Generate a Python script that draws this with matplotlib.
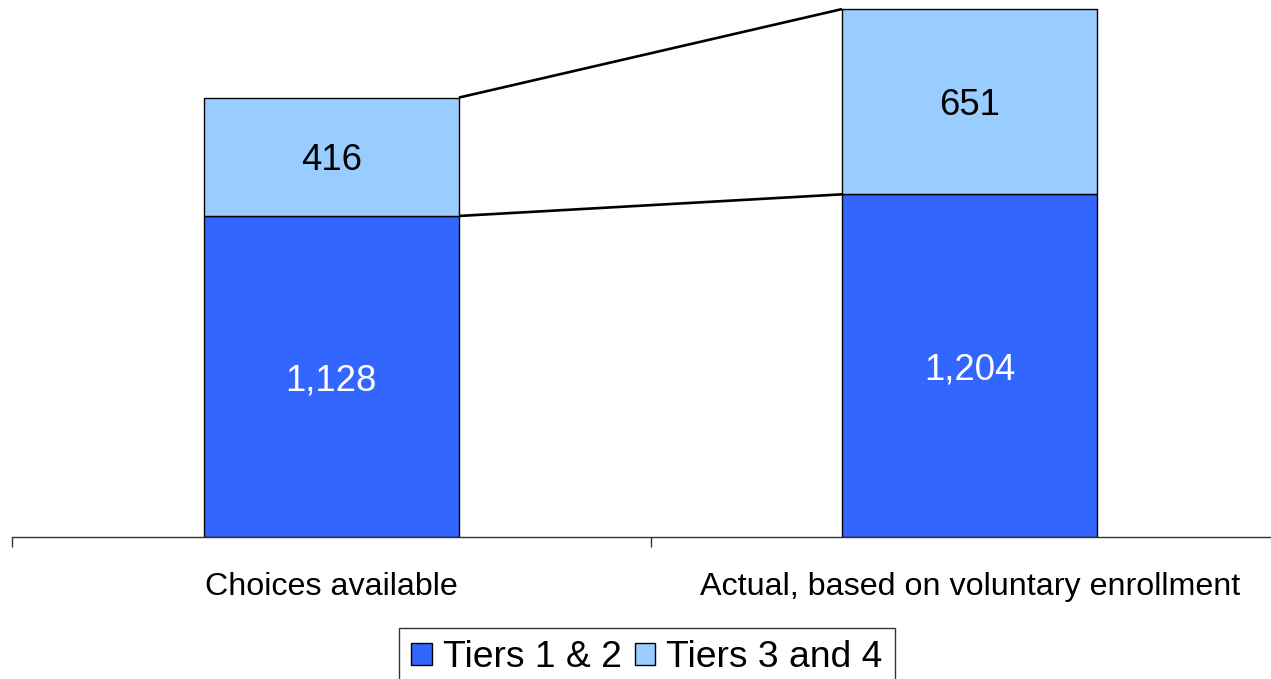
import matplotlib
matplotlib.use("Agg")
import matplotlib.pyplot as plt
import matplotlib.transforms as mtransforms
import numpy as np

categories = ["Choices available", "Actual, based on voluntary enrollment"]
tiers_1_2 = [1128, 1204]
tiers_3_4 = [416, 651]
series_names = ["Tiers 1 & 2", "Tiers 3 and 4"]
colors = ["#3366FF", "#99CCFF"]

plt.rcParams["font.family"] = ["Liberation Sans", "DejaVu Sans"]

W, H = 1271, 679
fig = plt.figure(figsize=(W / 100, H / 100), dpi=100)
ax = fig.add_axes([12 / W, (H - 537) / H, (W - 12) / W, 537 / H])

x = np.arange(len(categories))
width = 0.40
lower = np.array(tiers_1_2)
upper = np.array(tiers_3_4)

b1 = ax.bar(x, lower, width, color=colors[0], edgecolor="black", linewidth=1.0,
            label=series_names[0], zorder=2)
b2 = ax.bar(x, upper, width, bottom=lower, color=colors[1], edgecolor="black",
            linewidth=1.0, label=series_names[1], zorder=2)

# segment value labels, nudged slightly below the segment centre
label_tr = mtransforms.offset_copy(ax.transData, fig=fig, x=0, y=-3, units="points")
for i in range(len(x)):
    ax.text(x[i], lower[i] / 2, f"{lower[i]:,}", ha="center", va="center",
            color="white", fontsize=26.3, zorder=3, transform=label_tr)
    ax.text(x[i], lower[i] + upper[i] / 2, f"{upper[i]:,}", ha="center",
            va="center", color="black", fontsize=26.3, zorder=3,
            transform=label_tr)

# series lines joining the stacked segments
for top in (lower, lower + upper):
    ax.plot([x[0] + width / 2, x[1] - width / 2], [top[0], top[1]],
            color="black", lw=1.9, solid_capstyle="butt", zorder=1)

for s in ("top", "right", "left"):
    ax.spines[s].set_visible(False)
ax.spines["bottom"].set_color("#333333")
ax.spines["bottom"].set_linewidth(1.0)
ax.set_yticks([])

# category boundary ticks
ax.set_xticks([-0.5, 0.5])
ax.set_xticklabels([])
ax.tick_params(axis="x", which="major", direction="out", length=7, width=1.0,
               color="#333333")
ax.set_xticks(x, minor=True)
ax.set_xticklabels(categories, minor=True, fontsize=23.2)
ax.tick_params(axis="x", which="minor", length=0, pad=25)

px_per_unit = 638.5
ax.set_xlim(-0.5, -0.5 + (W - 12) / px_per_unit)
ax.set_ylim(0, 537 / 0.2846)

leg = fig.legend(handles=[b1, b2], labels=series_names, loc="upper center",
                 bbox_to_anchor=(647 / W, 1 - 628 / H), ncol=2, fontsize=26.8,
                 frameon=True, fancybox=False, edgecolor="black",
                 handlelength=0.55, handleheight=0.55, handletextpad=0.3,
                 columnspacing=0.35, borderpad=0.33, borderaxespad=0)
leg.get_frame().set_linewidth(1.0)

fig.savefig("out.png", dpi=100)
